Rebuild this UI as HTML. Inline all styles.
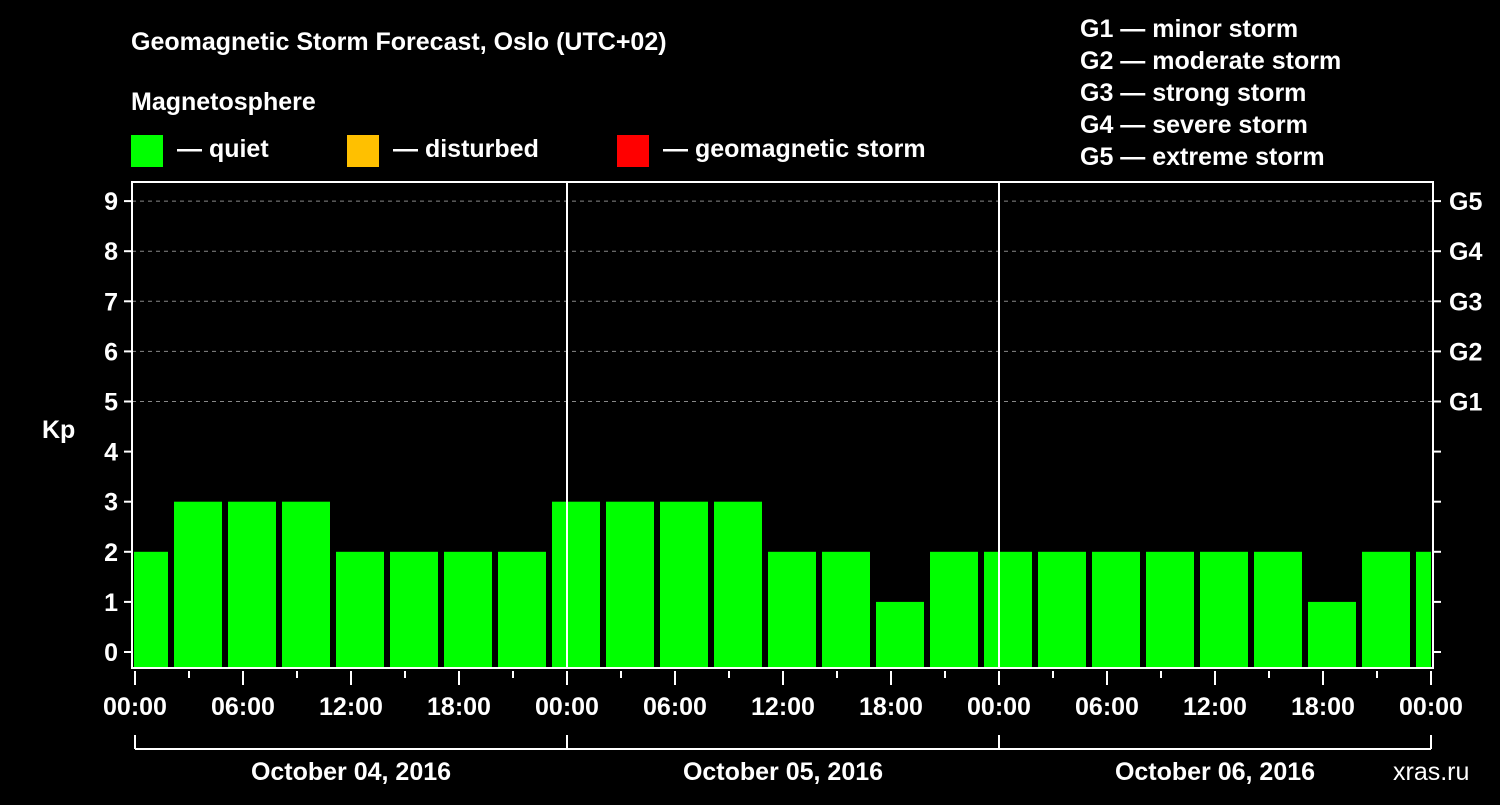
<!DOCTYPE html>
<html><head><meta charset="utf-8"><style>
body{margin:0;background:#000;width:1500px;height:800px;overflow:hidden;font-family:"Liberation Sans",sans-serif;}
svg text{font-family:"Liberation Sans",sans-serif;font-weight:bold;fill:#fff;}
</style></head><body>
<svg id="chart" width="1500" height="800" viewBox="0 0 1500 800">
<text x="131" y="50" font-size="25">Geomagnetic Storm Forecast, Oslo (UTC+02)</text>
<text x="131" y="110" font-size="25">Magnetosphere</text>
<g><rect x="131" y="135" width="32" height="32" fill="#00ff00"/><text x="177" y="157" font-size="25">— quiet</text></g>
<g><rect x="347" y="135" width="32" height="32" fill="#ffc000"/><text x="393" y="157" font-size="25">— disturbed</text></g>
<g><rect x="617" y="135" width="32" height="32" fill="#ff0000"/><text x="663" y="157" font-size="25">— geomagnetic storm</text></g>
<g font-size="25">
<text x="1080" y="37">G1 — minor storm</text>
<text x="1080" y="69">G2 — moderate storm</text>
<text x="1080" y="101">G3 — strong storm</text>
<text x="1080" y="133">G4 — severe storm</text>
<text x="1080" y="165">G5 — extreme storm</text>
</g>
<text x="42" y="438" font-size="25">Kp</text>
<text x="1393" y="780" font-size="25" style="font-weight:normal" fill="#888">xras.ru</text>
<g id="grid"></g><g id="bars"></g><g id="axes"></g>
</svg>
<script>
const kpValues=[2,3,3,3,2,2,2,2, 3,3,3,3,2,2,1,2, 2,2,2,2,2,2,1,2, 2];
const yTicks=[0,1,2,3,4,5,6,7,8,9];
const gLabels=["G1","G2","G3","G4","G5"];
const xLabels=["00:00","06:00","12:00","18:00","00:00","06:00","12:00","18:00","00:00","06:00","12:00","18:00","00:00"];
const dayLabels=["October 04, 2016","October 05, 2016","October 06, 2016"];
const NS="http://www.w3.org/2000/svg";
const L=132,R=1433,T=182,B=668;
const X0=135,PXH=18;
function xs(h){return X0+h*PXH;}
function ys(v){return 652-v*50.1;}
function mk(tag,attrs,parent){const e=document.createElementNS(NS,tag);for(const k in attrs)e.setAttribute(k,attrs[k]);parent.appendChild(e);return e;}
const grid=document.getElementById('grid'),bars=document.getElementById('bars'),axes=document.getElementById('axes');
const defs=mk('defs',{},grid);const cp=mk('clipPath',{id:'pc'},defs);mk('rect',{x:L+2,y:T,width:R-L-4,height:B-T},cp);
bars.setAttribute('clip-path','url(#pc)');
for(let i=5;i<=9;i++){const ln=mk('line',{x1:L,x2:R,y1:ys(i),y2:ys(i),stroke:'#888','stroke-dasharray':'4,4','stroke-width':1},grid);

}
kpValues.forEach((v,i)=>{const c=0.5+3*i;const x=xs(c)-24;
const col=v>=5?'#ff0000':(v>=4?'#ffc000':'#00ff00');
const r=mk('rect',{x:x,y:ys(v),width:48,height:B-ys(v),fill:col},bars);

});
mk('rect',{x:L,y:T,width:R-L,height:B-T,fill:'none',stroke:'#fff','stroke-width':2},axes);
[1,2].forEach(d=>{mk('line',{x1:xs(24*d),x2:xs(24*d),y1:T,y2:B,stroke:'#fff','stroke-width':2},axes);});
yTicks.forEach(v=>{mk('line',{x1:L-8,x2:L,y1:ys(v),y2:ys(v),stroke:'#fff','stroke-width':2},axes);
mk('line',{x1:R,x2:R+8,y1:ys(v),y2:ys(v),stroke:'#fff','stroke-width':2},axes);
const t=mk('text',{x:L-14,y:ys(v)+9,'font-size':25,'text-anchor':'end'},axes);t.textContent=v;

});
gLabels.forEach((g,i)=>{const t=mk('text',{x:R+16,y:ys(5+i)+9,'font-size':25},axes);t.textContent=g;

});
for(let h=0;h<=72;h+=3){const maj=h%6===0;mk('line',{x1:xs(h),x2:xs(h),y1:B+3,y2:B+(maj?17:10),stroke:'#fff','stroke-width':2},axes);}
xLabels.forEach((s,i)=>{const t=mk('text',{x:xs(6*i),y:715,'font-size':25,'text-anchor':'middle'},axes);t.textContent=s;

});
mk('line',{x1:xs(0),x2:xs(72),y1:749,y2:749,stroke:'#fff','stroke-width':2},axes);
for(let d=0;d<=3;d++)mk('line',{x1:xs(24*d),x2:xs(24*d),y1:735,y2:749,stroke:'#fff','stroke-width':2},axes);
dayLabels.forEach((s,i)=>{const t=mk('text',{x:xs(24*i+12),y:780,'font-size':25,'text-anchor':'middle'},axes);t.textContent=s;

});
</script>
</body></html>
